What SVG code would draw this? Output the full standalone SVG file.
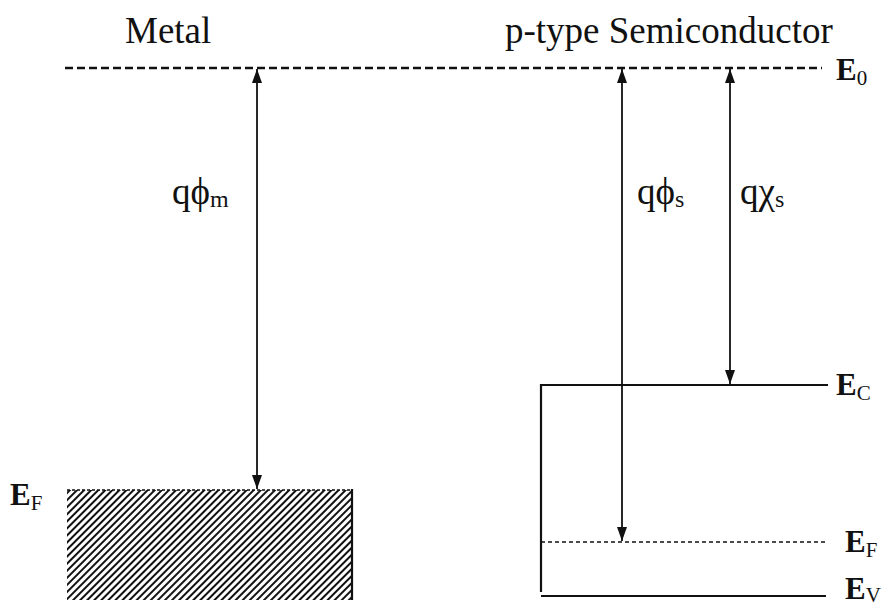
<svg xmlns="http://www.w3.org/2000/svg" width="888" height="606" viewBox="0 0 888 606">
<style>
.t{font-family:"Liberation Serif","Times New Roman",serif;fill:#111}
.lbl{font-size:37px}
.e{font-size:31px;font-weight:bold}
.sub{font-size:21px;font-weight:normal}
.gs{font-size:24px}
.ln{stroke:#111;stroke-width:2.2;fill:none}
.arr{stroke:#111;stroke-width:1.8;fill:none;marker-start:url(#ah);marker-end:url(#ah)}
</style>
<defs>
<marker id="ah" viewBox="0 0 14 10" refX="14" refY="5" markerWidth="14" markerHeight="10" markerUnits="userSpaceOnUse" orient="auto-start-reverse">
<path d="M0,0 L14,5 L0,10 Z" fill="#111"/>
</marker>
<pattern id="hatch" patternUnits="userSpaceOnUse" width="5" height="5" patternTransform="rotate(45)">
<line x1="1" y1="0" x2="1" y2="5" stroke="#111" stroke-width="2"/>
</pattern>
</defs>
<rect width="888" height="606" fill="#fff"/>

<g id="titles">
<text class="t lbl" x="125" y="43">Metal</text>
<text class="t lbl" x="505" y="43">p-type Semiconductor</text>
</g>

<g id="vacuum-level">
<line x1="65" y1="68" x2="822" y2="68" stroke="#111" stroke-width="2.5" stroke-dasharray="8 4"/>
<text class="t e" x="836" y="80">E<tspan class="sub" dy="5">0</tspan></text>
</g>

<g id="metal">
<rect x="67" y="490" width="285" height="110" fill="url(#hatch)"/>
<line x1="67" y1="490" x2="352" y2="490" stroke="#111" stroke-width="1.5" stroke-dasharray="3 2"/>
<line class="ln" x1="352" y1="489" x2="352" y2="600"/>
<text class="t e" x="10" y="505">E<tspan class="sub" dy="5">F</tspan></text>
</g>

<g id="semiconductor">
<line class="ln" x1="541" y1="385" x2="828" y2="385"/>
<line class="ln" x1="541" y1="384" x2="541" y2="592"/>
<line x1="541" y1="542" x2="826" y2="542" stroke="#111" stroke-width="1.6" stroke-dasharray="4 3"/>
<line class="ln" x1="541" y1="596" x2="826" y2="596"/>
<text class="t e" x="836" y="395">E<tspan class="sub" dy="5">C</tspan></text>
<text class="t e" x="845" y="552">E<tspan class="sub" dy="5">F</tspan></text>
<text class="t e" x="845" y="599">E<tspan class="sub" dy="3">V</tspan></text>
</g>

<g id="connectors">
<line class="arr" x1="257" y1="69" x2="257" y2="489"/>
<line class="arr" x1="622" y1="69" x2="622" y2="541"/>
<line class="arr" x1="730" y1="69" x2="730" y2="384"/>
</g>

<g id="labels">
<text class="t lbl" x="172" y="204">q&#x3D5;<tspan class="gs" dy="3">m</tspan></text>
<text class="t lbl" x="637" y="204">q&#x3D5;<tspan class="gs" dy="3">s</tspan></text>
<text class="t lbl" x="740" y="204">q&#x3C7;<tspan class="gs" dy="3">s</tspan></text>
</g>
</svg>
